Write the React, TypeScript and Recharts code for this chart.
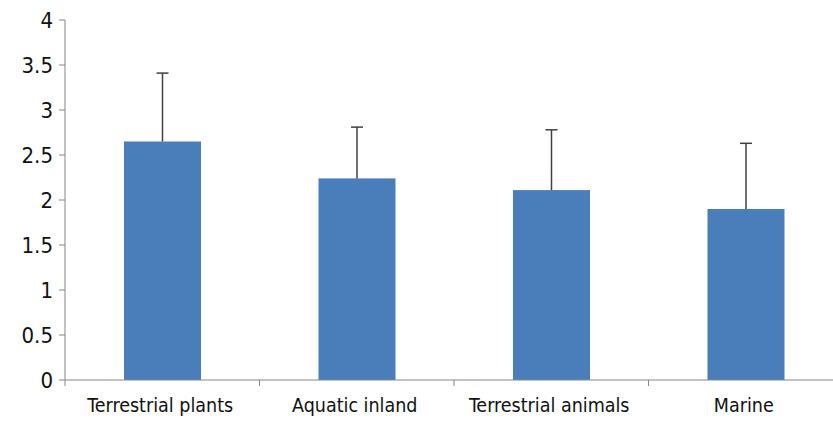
import React from 'react';
import { BarChart, Bar, XAxis, YAxis } from 'recharts';

const categories = ['Terrestrial plants', 'Aquatic inland', 'Terrestrial animals', 'Marine'];
const means = [2.65, 2.24, 2.11, 1.9];
const errors = [0.76, 0.57, 0.67, 0.73];
const yTicks = [0, 0.5, 1, 1.5, 2, 2.5, 3, 3.5, 4];

const data = categories.map((name, i) => ({ name, value: means[i], err: errors[i] }));

const FONT = '"DejaVu Sans Condensed", "Liberation Sans", sans-serif';
const CHART_W = 843;
const LEFT = 65;
const RIGHT_M = 0;

const BarWithError = (props: any) => {
  const { x, y, width, height, fill, payload } = props;
  const perUnit = height / payload.value;
  const top = y - payload.err * perUnit;
  const cx = x + width / 2;
  return (
    <g>
      <rect x={x} y={y} width={width} height={height} fill={fill} />
      <line x1={cx} y1={y} x2={cx} y2={top} stroke="#404040" strokeWidth={1.5} />
      <line x1={cx - 6} y1={top} x2={cx + 6} y2={top} stroke="#404040" strokeWidth={1.5} />
    </g>
  );
};

const CategoryTick = (props: any) => {
  const { x, y, payload } = props;
  const band = (CHART_W - LEFT - RIGHT_M) / categories.length;
  const bx = x - band / 2;
  return (
    <g>
      <line x1={bx} y1={y - 8} x2={bx} y2={y - 2} stroke="#868686" strokeWidth={1} />
      <text x={x - 2} y={y + 24} textAnchor="middle" fontSize={19.5} fontFamily={FONT} fill="#111">
        {payload.value}
      </text>
    </g>
  );
};

export default function App() {
  return (
    <div style={{ position: 'absolute', left: 0, top: 0, width: 833, height: 425, overflow: 'hidden', background: '#fff' }}>
      <BarChart
        width={CHART_W}
        height={425}
        data={data}
        margin={{ top: 20, right: RIGHT_M, bottom: 0, left: 0 }}
      >
        <XAxis
          dataKey="name"
          height={45}
          tickLine={false}
          axisLine={{ stroke: '#868686' }}
          tick={<CategoryTick />}
          interval={0}
        />
        <YAxis
          width={LEFT}
          domain={[0, 4]}
          ticks={yTicks}
          interval={0}
          tickSize={6}
          tickMargin={6}
          axisLine={{ stroke: '#868686' }}
          tickLine={{ stroke: '#868686' }}
          tick={{ fontSize: 22, fontFamily: FONT, fill: '#111' }}
        />
        <Bar dataKey="value" fill="#4a7ebb" barSize={77} shape={<BarWithError />} isAnimationActive={false} />
      </BarChart>
    </div>
  );
}
